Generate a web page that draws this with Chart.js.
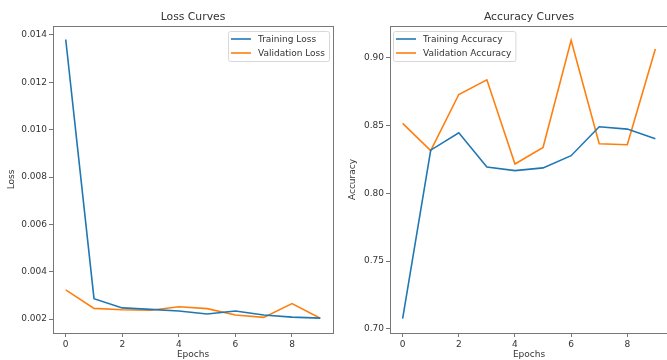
<!DOCTYPE html>
<html>
<head>
<meta charset="utf-8">
<script src="https://cdn.jsdelivr.net/npm/chart.js@4"></script>
<style>
  html, body { margin: 0; padding: 0; background: #fff; overflow: hidden; width: 667px; height: 360px; }
  .box { position: absolute; top: 0; }
  #lossBox { left: 0; width: 340px; height: 372px; }
  #accBox { left: 340px; width: 340px; height: 372px; }
</style>
</head>
<body>
<div class="box" id="lossBox"><canvas id="lossChart"></canvas></div>
<div class="box" id="accBox"><canvas id="accChart"></canvas></div>
<script>
const epochs = [0, 1, 2, 3, 4, 5, 6, 7, 8, 9];
const trainLoss = [0.01381, 0.00286, 0.00247, 0.00241, 0.00234, 0.00221, 0.00234, 0.00217, 0.00208, 0.00204];
const valLoss = [0.00323, 0.00245, 0.00239, 0.00237, 0.00252, 0.00244, 0.00217, 0.00207, 0.00265, 0.00203];
const trainAcc = [0.7076, 0.8318, 0.8446, 0.8194, 0.8167, 0.8187, 0.8277, 0.8490, 0.8473, 0.8402];
const valAcc = [0.8515, 0.8314, 0.8728, 0.8836, 0.8216, 0.8338, 0.9128, 0.8365, 0.8358, 0.9063];
const xTicks = [0, 2, 4, 6, 8];
const lossTicks = [0.002, 0.004, 0.006, 0.008, 0.010, 0.012, 0.014];
const accTicks = [0.70, 0.75, 0.80, 0.85, 0.90];

const FONT = 'DejaVu Sans';
const TXT = '#333';
const SPINE = '#777';
const BLUE = '#1f77b4';
const ORANGE = '#ff7f0e';

// frame, title and legend the way matplotlib draws them
const mplBox = {
  id: 'mplBox',
  afterDraw(chart, args, opts) {
    const ctx = chart.ctx, a = chart.chartArea;
    ctx.save();
    ctx.strokeStyle = SPINE;
    ctx.lineWidth = 1;
    ctx.strokeRect(Math.round(a.left) + 0.5, Math.round(a.top) + 0.5,
      Math.round(a.right - a.left), Math.round(a.bottom - a.top));

    ctx.fillStyle = TXT;
    ctx.font = '10.8px "' + FONT + '"';
    ctx.textAlign = 'center';
    ctx.textBaseline = 'middle';
    ctx.fillText(opts.title, (a.left + a.right) / 2, 17.5);

    ctx.font = '9px "' + FONT + '"';
    const sets = chart.data.datasets;
    let tw = 0;
    sets.forEach(d => { tw = Math.max(tw, ctx.measureText(d.label).width); });
    const w = 3 + 20 + 7 + tw + 4, h = 30;
    const x = opts.legendAt === 'right' ? a.right - 4 - w : a.left + 3;
    const y = a.top + 5;
    ctx.beginPath();
    ctx.roundRect(x + 0.5, y + 0.5, w, h, 2);
    ctx.fillStyle = 'rgba(255,255,255,0.8)';
    ctx.fill();
    ctx.strokeStyle = '#d8d8d8';
    ctx.stroke();
    ctx.textAlign = 'left';
    sets.forEach((d, i) => {
      const ry = y + 8 + i * 14;
      ctx.strokeStyle = d.borderColor;
      ctx.lineWidth = 1.6;
      ctx.beginPath();
      ctx.moveTo(x + 3, ry);
      ctx.lineTo(x + 23, ry);
      ctx.stroke();
      ctx.fillStyle = TXT;
      ctx.fillText(d.label, x + 30, ry + 0.5);
    });
    ctx.restore();
  }
};

function pts(ys) {
  return epochs.map((e, i) => ({ x: e, y: ys[i] }));
}

function makeChart(id, cfg) {
  return new Chart(document.getElementById(id), {
    type: 'line',
    data: {
      datasets: [
        { label: cfg.labels[0], data: pts(cfg.series[0]), borderColor: BLUE, backgroundColor: BLUE, borderWidth: 1.6, pointRadius: 0, tension: 0 },
        { label: cfg.labels[1], data: pts(cfg.series[1]), borderColor: ORANGE, backgroundColor: ORANGE, borderWidth: 1.6, pointRadius: 0, tension: 0 }
      ]
    },
    options: {
      responsive: true,
      maintainAspectRatio: false,
      animation: false,
      layout: { padding: { top: 26, right: cfg.padRight, left: 0, bottom: 0 } },
      plugins: {
        legend: { display: false },
        tooltip: { enabled: false },
        mplBox: { title: cfg.title, legendAt: cfg.legendAt }
      },
      scales: {
        x: {
          type: 'linear',
          min: -0.45,
          max: 9.45,
          afterBuildTicks: s => { s.ticks = xTicks.map(v => ({ value: v })); },
          afterFit: s => { s.height = 39; },
          grid: { drawOnChartArea: false, drawTicks: true, tickLength: 4, color: SPINE },
          border: { display: false },
          ticks: { color: TXT, font: { family: FONT, size: 9 }, padding: 2, maxRotation: 0 },
          title: { display: true, text: 'Epochs', color: TXT, font: { family: FONT, size: 9 }, padding: { top: 0, bottom: 11.5 } }
        },
        y: {
          min: cfg.yMin,
          max: cfg.yMax,
          afterBuildTicks: s => { s.ticks = cfg.yTicks.map(v => ({ value: v })); },
          afterFit: s => { s.width = cfg.yWidth; },
          grid: { drawOnChartArea: false, drawTicks: true, tickLength: 4, color: SPINE },
          border: { display: false },
          ticks: { color: TXT, font: { family: FONT, size: 9 }, padding: 2, callback: v => v.toFixed(cfg.digits) },
          title: { display: true, text: cfg.yTitle, color: TXT, font: { family: FONT, size: 9 }, padding: { top: cfg.yTitlePad, bottom: 0 } }
        }
      }
    },
    plugins: [mplBox]
  });
}

makeChart('lossChart', {
  title: 'Loss Curves',
  labels: ['Training Loss', 'Validation Loss'],
  series: [trainLoss, valLoss],
  yTicks: lossTicks, yMin: 0.00141, yMax: 0.01438, digits: 3,
  yTitle: 'Loss', yWidth: 53, yTitlePad: 6.6, padRight: 7, legendAt: 'right'
});

makeChart('accChart', {
  title: 'Accuracy Curves',
  labels: ['Training Accuracy', 'Validation Accuracy'],
  series: [trainAcc, valAcc],
  yTicks: accTicks, yMin: 0.697, yMax: 0.9233, digits: 2,
  yTitle: 'Accuracy', yWidth: 50, yTitlePad: 7.6, padRight: 12, legendAt: 'left'
});
</script>
</body>
</html>
